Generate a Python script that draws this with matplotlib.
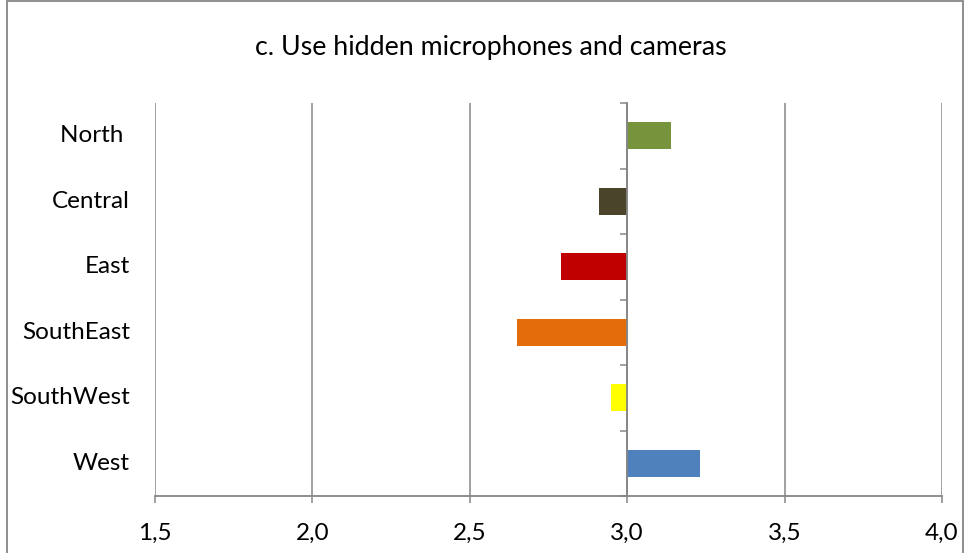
import numpy as np
import matplotlib.pyplot as plt
from matplotlib.patches import Rectangle

plt.rcParams['font.family'] = ['Lato', 'DejaVu Sans']

regions = ["North ", "Central", "East", "SouthEast", "SouthWest", "West"]
scores = [3.14, 2.91, 2.79, 2.65, 2.95, 3.23]
colors = ["#77933C", "#4A452A", "#C00000", "#E46C0A", "#FFFF00", "#4F81BD"]
x_ticks = [1.5, 2.0, 2.5, 3.0, 3.5, 4.0]
base = 3.0
title = "c. Use hidden microphones and cameras"

grey = "#868686"

fig = plt.figure(figsize=(9.65, 5.53), dpi=100)
ax = fig.add_axes([155 / 965, 57 / 553, 787 / 965, 393 / 553])

y_pos = np.arange(len(regions))[::-1]
values = np.array(scores)
ax.barh(y_pos, values - base, left=base, height=0.41, color=colors, zorder=3)

ax.set_xlim(x_ticks[0], x_ticks[-1])
ax.set_ylim(-0.5, len(regions) - 0.5)
ax.set_xticks(x_ticks)
ax.set_xticklabels([f"{v:.1f}".replace(".", ",") for v in x_ticks], fontsize=17.5)
ax.tick_params(axis="x", direction="out", length=5, width=1.1, color=grey, pad=14)

ax.set_yticks([])
ax.set_yticks(np.arange(len(regions) + 1) - 0.5, minor=True)
ax.tick_params(axis="y", which="minor", direction="out", length=5, width=1.1,
               color=grey, labelleft=False)

ax.grid(axis="x", color=grey, linewidth=1.1, zorder=0)
ax.spines["left"].set_position(("data", base))
ax.spines["left"].set_color(grey)
ax.spines["left"].set_linewidth(1.3)
ax.spines["left"].set_zorder(4)
ax.spines["bottom"].set_color(grey)
ax.spines["bottom"].set_linewidth(1.3)
ax.spines["top"].set_visible(False)
ax.spines["right"].set_visible(False)

for y, name in zip(y_pos, regions):
    ax.annotate(name, xy=(0, y), xycoords=("axes fraction", "data"),
                xytext=(-25, 0), textcoords="offset pixels",
                ha="right", va="center", fontsize=17.5)

fig.text(491 / 965, 1 - 48 / 553, title, ha="center", va="center", fontsize=19.3)

fig.patches.append(Rectangle((7 / 965, -0.1), 956 / 965, 1.1 - 1 / 553,
                             transform=fig.transFigure, fill=False,
                             edgecolor=grey, linewidth=1.3))

fig.savefig("out.png", dpi=100)
